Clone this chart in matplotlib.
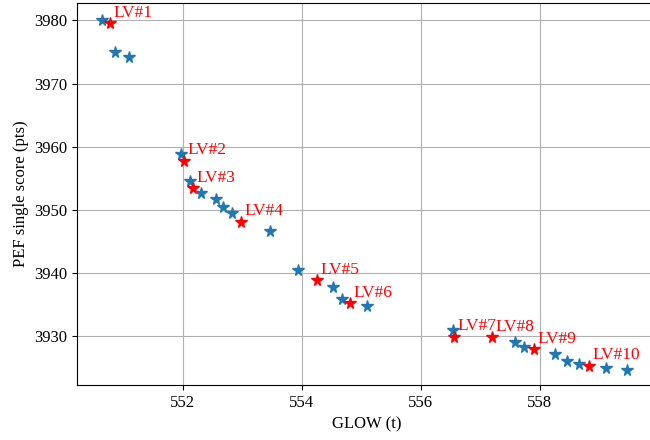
import numpy as np
import matplotlib
matplotlib.use('Agg')
import matplotlib.pyplot as plt

plt.rcParams['font.family'] = ['Liberation Serif', 'DejaVu Serif']
plt.rcParams['font.size'] = 12

# all evaluated designs (GLOW in t, PEF score in pts)
glow_all = [550.64, 550.86, 551.10, 551.97, 552.12, 552.30, 552.55, 552.68,
            552.82, 553.46, 553.94, 554.53, 554.68, 555.09, 556.54, 557.58,
            557.74, 558.26, 558.45, 558.66, 559.11, 559.46]
pef_all = [3980.1, 3975.0, 3974.2, 3958.9, 3954.6, 3952.6, 3951.7, 3950.5,
           3949.5, 3946.6, 3940.5, 3937.7, 3935.8, 3934.7, 3930.9, 3929.1,
           3928.3, 3927.1, 3926.1, 3925.5, 3925.0, 3924.7]

# selected light-weighting variants
lv_names = ['LV#%d' % i for i in range(1, 11)]
glow_lv = [550.77, 552.02, 552.17, 552.98, 554.25, 554.81, 556.55, 557.19,
           557.90, 558.83]
pef_lv = [3979.6, 3957.8, 3953.4, 3948.1, 3938.9, 3935.2, 3929.9, 3929.8,
          3927.9, 3925.3]

fig = plt.figure(figsize=(6.5, 4.4), dpi=100)
ax = fig.add_axes([77 / 650., 55 / 440., 579 / 650., 382 / 440.])

ax.plot(glow_all, pef_all, '*', color='#1f77b4', markersize=8.5, linestyle='none')
ax.plot(glow_lv, pef_lv, '*', color='red', markersize=8.5, linestyle='none')
for name, x, y in zip(lv_names, glow_lv, pef_lv):
    ax.text(x + 0.06, y + 1.0, name, color='red', fontsize=12.5)

ax.set_xlim(550.22, 559.95)
ax.set_ylim(3922.25, 3982.75)
ax.set_xticks([552, 554, 556, 558])
ax.set_yticks([3930, 3940, 3950, 3960, 3970, 3980])
ax.grid(True)
ax.set_axisbelow(True)
ax.set_xlabel('GLOW (t)')
ax.set_ylabel('PEF single score (pts)')

fig.savefig('out.png', dpi=100)
